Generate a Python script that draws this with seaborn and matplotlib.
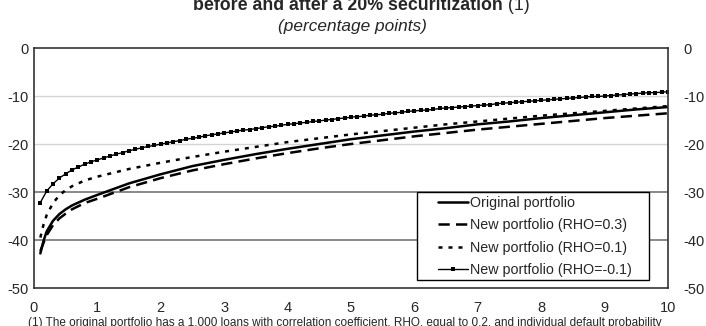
import numpy as np
import pandas as pd
import matplotlib
matplotlib.use("Agg")
import matplotlib.pyplot as plt
from matplotlib.patches import Rectangle
import seaborn as sns

sns.set_style("white")
plt.rcParams['font.family'] = ['Liberation Sans', 'DejaVu Sans']

# ---- data (percentage points) ----
x_line = [0.1, 0.15, 0.2, 0.3, 0.4, 0.5, 0.6, 0.8, 1.0, 1.5, 2.0, 2.5, 3.0, 3.5,
          4.0, 4.5, 5.0, 5.5, 6.0, 6.5, 7.0, 7.5, 8.0, 8.5, 9.0, 9.5, 10.0]
original = [-42.8, -40.2, -38.2, -36.0, -34.6, -33.6, -32.8, -31.6, -30.6, -28.2, -26.3,
            -24.6, -23.3, -22.1, -21.0, -20.0, -19.0, -18.2, -17.4, -16.7, -15.9, -15.3,
            -14.6, -14.0, -13.4, -12.8, -12.3]
rho_03 = [-42.3, -40.6, -39.0, -36.9, -35.5, -34.5, -33.6, -32.3, -31.4, -29.0, -27.1,
          -25.5, -24.2, -23.0, -21.9, -20.9, -20.0, -19.2, -18.4, -17.7, -17.0, -16.4,
          -15.8, -15.2, -14.6, -14.1, -13.6]
rho_01 = [-39.5, -36.8, -34.8, -32.3, -30.7, -29.6, -28.8, -27.6, -26.8, -25.2, -23.9,
          -22.7, -21.6, -20.6, -19.6, -18.8, -18.0, -17.3, -16.6, -15.9, -15.3, -14.7,
          -14.1, -13.6, -13.1, -12.6, -12.1]

x_mark = [round(0.1 * i, 1) for i in range(1, 101)]
rho_m01 = [-32.2, -29.8, -28.3, -27.1, -26.2, -25.4, -24.8, -24.2, -23.7, -23.3,
           -22.9, -22.5, -22.1, -21.8, -21.4, -21.1, -20.8, -20.5, -20.3, -20.0,
           -19.8, -19.5, -19.3, -19.0, -18.8, -18.6, -18.3, -18.1, -17.9, -17.7,
           -17.5, -17.3, -17.1, -17.0, -16.8, -16.6, -16.4, -16.3, -16.1, -15.9,
           -15.8, -15.6, -15.5, -15.3, -15.2, -15.0, -14.9, -14.7, -14.6, -14.4,
           -14.3, -14.2, -14.0, -13.9, -13.8, -13.6, -13.5, -13.4, -13.2, -13.1,
           -13.0, -12.9, -12.8, -12.6, -12.5, -12.4, -12.3, -12.2, -12.1, -12.0,
           -11.9, -11.8, -11.6, -11.5, -11.4, -11.3, -11.2, -11.1, -11.0, -10.9,
           -10.8, -10.7, -10.6, -10.5, -10.4, -10.3, -10.2, -10.1, -10.1, -10.0,
           -9.9, -9.8, -9.7, -9.6, -9.5, -9.4, -9.3, -9.3, -9.2, -9.1]

labels = ["Original portfolio", "New portfolio (RHO=0.3)",
          "New portfolio (RHO=0.1)", "New portfolio (RHO=-0.1)"]
x_ticks = list(range(0, 11))
y_ticks = [0, -10, -20, -30, -40, -50]

title_text = "before and after a 20% securitization"
title_note = " (1)"
subtitle = "(percentage points)"
footnote = ("(1) The original portfolio has a 1,000 loans with correlation coefficient, "
            "RHO, equal to 0.2, and individual default probability")

# ---- figure ----
W, H = 706, 326
fig = plt.figure(figsize=(W / 100, H / 100), dpi=100)
ax = fig.add_axes([34 / W, 1 - 288 / H, 634 / W, 240 / H])

# gridlines
for yv in y_ticks[1:-1]:
    if yv > -25:
        ax.axhline(yv, color="#d4d4d4", lw=1.0, zorder=0)
    else:
        ax.axhline(yv, color="#7f7f7f", lw=1.3, zorder=0)

df_line = pd.DataFrame({"x": x_line, "orig": original, "r03": rho_03, "r01": rho_01})
df_mark = pd.DataFrame({"x": x_mark, "rm01": rho_m01})

sns.lineplot(data=df_line, x="x", y="orig", ax=ax, color="black", lw=1.8,
             label=labels[0])
sns.lineplot(data=df_line, x="x", y="r03", ax=ax, color="black", lw=1.8,
             label=labels[1])
sns.lineplot(data=df_line, x="x", y="r01", ax=ax, color="black", lw=1.8,
             label=labels[2])
sns.lineplot(data=df_mark, x="x", y="rm01", ax=ax, color="black", lw=1.0,
             marker="s", markersize=3.3, markeredgewidth=0, label=labels[3])
lines = ax.get_lines()
lines[-3].set_dashes([4.5, 2.5])
lines[-2].set_dashes([1.6, 2.4])

ax.set_xlim(0, 10)
ax.set_ylim(-50, 0)
ax.set_xlabel("")
ax.set_ylabel("")
ax.set_xticks(x_ticks)
ax.set_xticklabels([str(v) for v in x_ticks])
ax.set_yticks(y_ticks)
ax.set_yticklabels([str(v) for v in y_ticks])
ax.tick_params(axis="x", direction="in", length=4, width=1, color="#333333",
               labelsize=10.5, pad=9)
ax.tick_params(axis="y", length=0, labelsize=10.5, pad=4)
for s in ax.spines.values():
    s.set_visible(True)
    s.set_color("#333333")
    s.set_linewidth(1.2)

# right-hand axis labels (same scale)
ax2 = ax.twinx()
ax2.set_ylim(ax.get_ylim())
ax2.set_yticks(y_ticks)
ax2.set_yticklabels([str(v) for v in y_ticks])
ax2.tick_params(axis="y", length=0, labelsize=10.5, pad=11)
ax2.grid(False)
for s in ax2.spines.values():
    s.set_visible(False)

# legend box drawn as in the reference (wide horizontal padding)
box = Rectangle(((417 - 34) / 634, (288 - 280) / 240), 232 / 634, 88 / 240,
                transform=ax.transAxes, facecolor="white", edgecolor="black",
                lw=1.0, zorder=4.5)
ax.add_patch(box)
leg = ax.legend(loc="center left", bbox_to_anchor=((438 - 34) / 634, (288 - 236.5) / 240),
                frameon=False, fontsize=10.3, handlelength=2.1, handletextpad=0.15,
                borderpad=0, borderaxespad=0, labelspacing=0.6, numpoints=1)
leg.set_zorder(5)

# titles
tmp = fig.text(0, 0, title_text, fontsize=12.75, fontweight="bold")
tmp2 = fig.text(0, 0, title_note, fontsize=12.75)
fig.canvas.draw()
w1 = tmp.get_window_extent().width
w2 = tmp2.get_window_extent().width
tmp.remove()
tmp2.remove()
cx = 361
start = cx - (w1 + w2) / 2
fig.text(start / W, 1 - 6 / H, title_text, fontsize=12.75, fontweight="bold",
         va="center", ha="left")
fig.text((start + w1) / W, 1 - 6 / H, title_note, fontsize=12.75, va="center", ha="left")
fig.text(352 / W, 1 - 27 / H, subtitle, fontsize=12.4, fontstyle="italic",
         ha="center", va="center")
fig.text(28 / W, 1 - 323 / H, footnote, fontsize=8.5, ha="left", va="center")

fig.savefig("out.png", dpi=100)
